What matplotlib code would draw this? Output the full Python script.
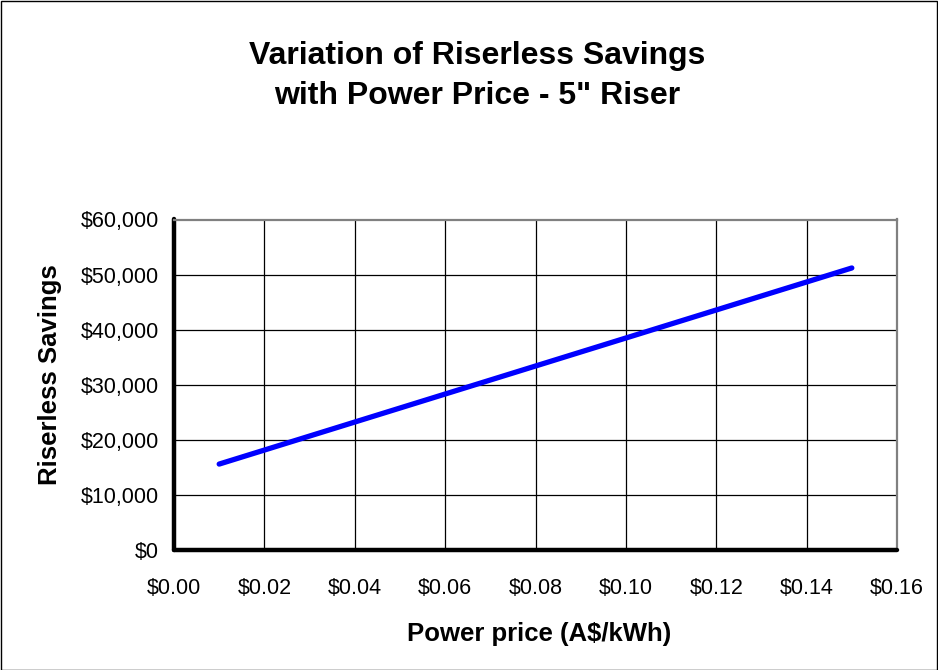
import matplotlib
matplotlib.use("Agg")
import matplotlib.pyplot as plt
from matplotlib.ticker import FuncFormatter, MultipleLocator
from matplotlib.patches import Rectangle

plt.rcParams['font.family'] = ['Liberation Sans', 'DejaVu Sans']

# Data
power_price = [0.01, 0.15]          # A$/kWh
riserless_savings = [15600, 51200]  # A$

title = 'Variation of Riserless Savings\nwith Power Price - 5" Riser'
xlabel = 'Power price (A$/kWh)'
ylabel = 'Riserless Savings'

fig = plt.figure(figsize=(9.38, 6.7), dpi=100)
ax = fig.add_axes([174/938, 1-550/670, (897-174)/938, (550-219.5)/670])

ax.plot(power_price, riserless_savings, color='#0000FF', linewidth=3.8,
        solid_capstyle='round', zorder=3)

ax.set_xlim(0, 0.16)
ax.set_ylim(0, 60000)
ax.xaxis.set_major_locator(MultipleLocator(0.02))
ax.yaxis.set_major_locator(MultipleLocator(10000))
ax.xaxis.set_major_formatter(FuncFormatter(lambda v, p: f"${v:.2f}"))
ax.yaxis.set_major_formatter(FuncFormatter(lambda v, p: f"${v:,.0f}"))

ax.grid(True, color='black', linewidth=0.9)
ax.set_axisbelow(True)

for s in ['left', 'bottom']:
    ax.spines[s].set_linewidth(3.2)
    ax.spines[s].set_color('black')
    ax.spines[s].set_capstyle('round')
for s in ['top', 'right']:
    ax.spines[s].set_linewidth(1.6)
    ax.spines[s].set_color('#808080')

ax.tick_params(axis='both', length=0, labelsize=15.5)
ax.tick_params(axis='x', pad=20)
ax.tick_params(axis='y', pad=11)

fig.text(477/938, 1-76/670, title, ha='center', va='center', fontsize=23,
         fontweight='bold', linespacing=1.42)
fig.text(539/938, 1-634/670, xlabel, ha='center', va='center', fontsize=18.5,
         fontweight='bold')
fig.text(50/938, 1-375/670, ylabel, ha='center', va='center', fontsize=18.5,
         fontweight='bold', rotation=90)

fig.add_artist(Rectangle((0.5/938, 0.5/670), 1-1.5/938, 1-1.5/670,
                         transform=fig.transFigure, fill=False,
                         edgecolor='black', linewidth=1))

fig.savefig('out.png', dpi=100)
